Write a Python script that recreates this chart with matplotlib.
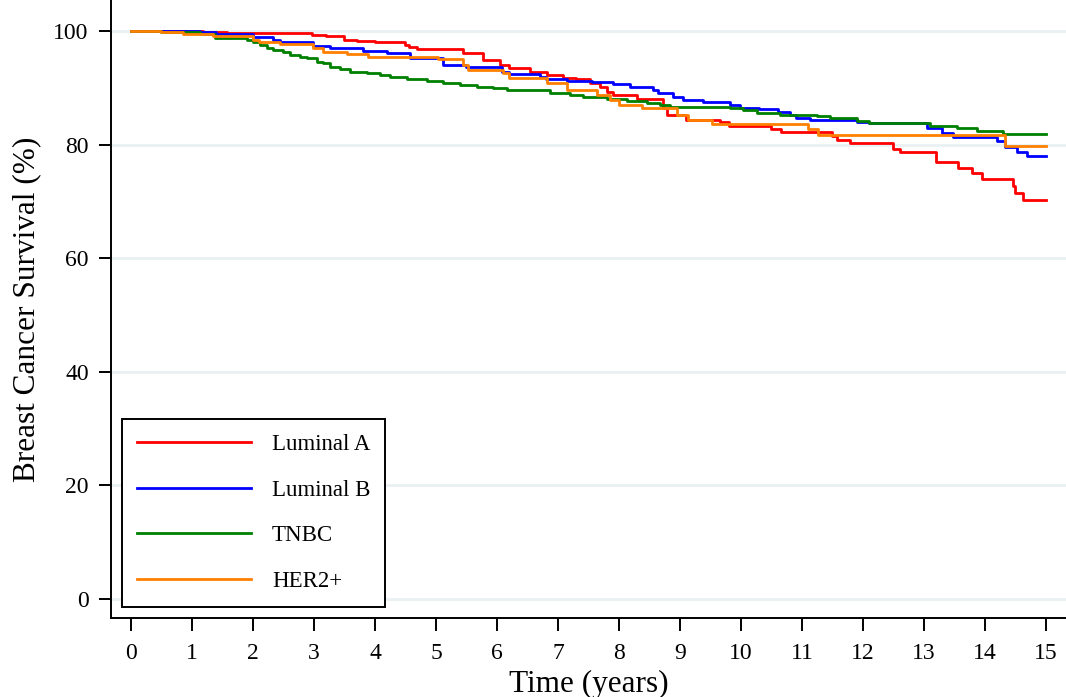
import numpy as np
import matplotlib
matplotlib.use("Agg")
import matplotlib.pyplot as plt

plt.rcParams['font.family'] = ['Liberation Serif', 'DejaVu Serif']

# Kaplan-Meier estimates (time in years, survival in %)
lumA_t = [0, 1.18, 1.57, 2.97, 3.2, 3.5, 3.7, 4.0, 4.49, 4.55,
          4.69, 5.44, 5.77, 6.05, 6.2, 6.54, 6.82, 7.08, 7.3, 7.52,
          7.69, 7.8, 7.9, 8.3, 8.72, 8.78, 9.1, 9.65, 9.8, 10.5,
          10.65, 11.5, 11.57, 11.79, 12.5, 12.6, 13.2, 13.56, 13.79, 13.95,
          14.46, 14.5, 14.62, 15]
lumA_s = [100, 99.8, 99.6, 99.35, 99.1, 98.5, 98.2, 98.0, 97.5, 97.2,
          96.9, 96.1, 94.9, 94.1, 93.5, 92.7, 92.3, 91.8, 91.5, 90.8,
          90.2, 89.2, 88.8, 88.1, 86.5, 85.2, 84.3, 83.9, 83.2, 82.7,
          82.2, 81.5, 80.9, 80.2, 79.3, 78.75, 77.0, 75.9, 75.05, 73.9,
          72.7, 71.5, 70.3, 70.3]

lumB_t = [0, 1.13, 1.4, 2.0, 2.33, 2.44, 2.98, 3.26, 3.8, 4.2,
          4.57, 5.12, 5.5, 6.08, 6.2, 6.7, 6.8, 7.15, 7.55, 7.9,
          8.18, 8.56, 8.64, 8.89, 9.05, 9.38, 9.82, 9.98, 10.3, 10.6,
          10.8, 10.9, 11.13, 11.9, 12.1, 13.05, 13.3, 13.48, 14.2, 14.33,
          14.52, 14.69, 15]
lumB_s = [100, 99.85, 99.5, 98.9, 98.4, 98.1, 97.4, 96.95, 96.5, 96.1,
          95.2, 94.1, 93.7, 92.8, 92.4, 91.95, 91.5, 91.2, 91.0, 90.7,
          90.2, 89.6, 89.1, 88.4, 87.85, 87.45, 87.0, 86.5, 86.2, 85.8,
          85.2, 84.7, 84.3, 84.0, 83.75, 83.0, 82.1, 81.3, 80.7, 79.5,
          78.75, 78.0, 78.0]

tnbc_t = [0, 0.5, 0.89, 1.13, 1.38, 1.9, 2.0, 2.11, 2.23, 2.33,
          2.49, 2.61, 2.77, 2.89, 3.05, 3.15, 3.26, 3.43, 3.59, 3.87,
          4.08, 4.25, 4.52, 4.85, 5.11, 5.39, 5.67, 5.93, 6.16, 6.87,
          7.2, 7.41, 7.8, 8.13, 8.46, 8.67, 8.84, 9.82, 10.03, 10.26,
          10.64, 11.25, 11.46, 11.9, 12.1, 13.1, 13.54, 13.87, 14.3, 15]
tnbc_s = [100, 99.9, 99.8, 99.4, 98.8, 98.4, 98.0, 97.5, 97.0, 96.6,
          96.3, 95.8, 95.4, 95.2, 94.6, 94.3, 93.7, 93.25, 92.8, 92.65,
          92.25, 91.95, 91.5, 91.25, 90.9, 90.5, 90.2, 89.9, 89.6, 89.1,
          88.7, 88.3, 88.0, 87.7, 87.4, 87.0, 86.7, 86.4, 86.1, 85.6,
          85.3, 85.0, 84.6, 84.2, 83.75, 83.3, 83.0, 82.45, 81.9, 81.9]

her2_t = [0, 0.5, 0.86, 1.35, 2.0, 2.1, 2.44, 2.98, 3.15, 3.54,
          3.89, 5.03, 5.44, 5.52, 6.1, 6.2, 6.82, 7.15, 7.64, 7.85,
          8.0, 8.38, 8.95, 9.13, 9.52, 11.1, 11.26, 14.33, 15]
her2_s = [100, 99.9, 99.5, 99.2, 98.5, 98.1, 97.7, 96.95, 96.3, 95.9,
          95.5, 95.0, 94.0, 93.1, 92.6, 91.7, 90.8, 89.6, 88.7, 87.85,
          87.0, 86.5, 85.2, 84.3, 83.6, 82.7, 81.7, 79.8, 79.8]

x_ticks = list(range(0, 16))
y_ticks = [0, 20, 40, 60, 80, 100]

fig = plt.figure(figsize=(10.66, 6.97), dpi=100)
ax = fig.add_axes([0.1041, 0.1133, 0.8959, 0.8867])

for y in y_ticks:
    ax.axhline(y, color='#eaf1f2', lw=2, zorder=0)

ax.step(lumA_t, lumA_s, where='post', color='#ff0000', lw=2, label='Luminal A')
ax.step(lumB_t, lumB_s, where='post', color='#0000ff', lw=2, label='Luminal B')
ax.step(tnbc_t, tnbc_s, where='post', color='#008000', lw=2, label='TNBC')
ax.step(her2_t, her2_s, where='post', color='#ff8000', lw=2, label='HER2+')

ax.set_xlim(-0.328, 15.328)
ax.set_ylim(-3.345, 105.46)
ax.set_xticks(x_ticks)
ax.set_yticks(y_ticks)
ax.tick_params(axis='both', direction='out', length=9, width=1.4,
               labelsize=17)
ax.tick_params(axis='x', pad=9)
ax.tick_params(axis='y', pad=7)
ax.spines['top'].set_visible(False)
ax.spines['right'].set_visible(False)
ax.spines['left'].set_linewidth(1.4)
ax.spines['bottom'].set_linewidth(1.4)

ax.set_xlabel('Time (years)', fontsize=22.5, labelpad=4)
ax.set_ylabel('Breast Cancer Survival (%)', fontsize=22.5, labelpad=9)

leg = ax.legend(loc='lower left', bbox_to_anchor=(0.0115, 0.0178),
                borderaxespad=0, fontsize=16.5, handlelength=5.0,
                handletextpad=0.9, labelspacing=1.08, borderpad=0.65,
                fancybox=False, framealpha=1, edgecolor='black')
leg.get_frame().set_linewidth(1.4)

fig.savefig('out.png', dpi=100)
